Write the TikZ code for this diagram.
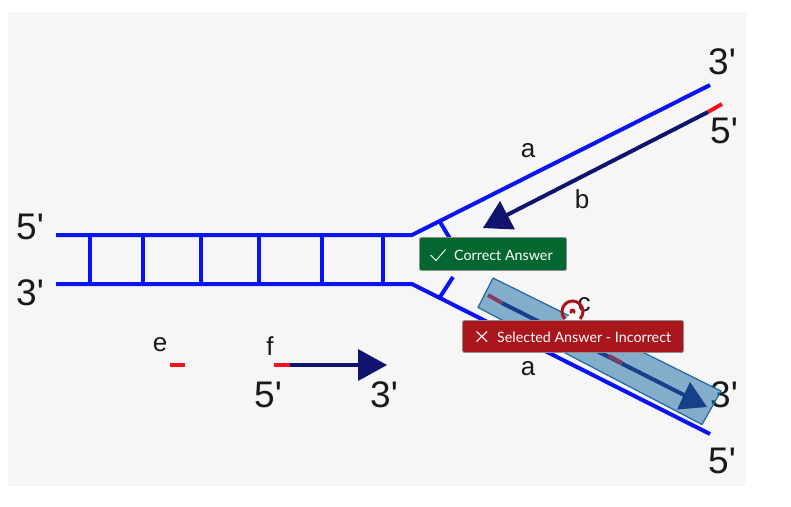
\documentclass[tikz,border=0pt]{standalone}
\usepackage{fontspec}
\setmainfont{Liberation Sans}
\newfontfamily\labelfont{Liberation Sans}
\newfontfamily\latofont{Lato}
\definecolor{strandblue}{HTML}{0A14F0}
\definecolor{navy}{HTML}{10146E}
\definecolor{primer}{HTML}{F5101E}
\definecolor{panel}{HTML}{F6F6F6}
\definecolor{boxblue}{HTML}{1D6AA5}
\definecolor{okgreen}{HTML}{04672F}
\definecolor{badred}{HTML}{A9161C}
\definecolor{tipedge}{HTML}{8E8E8E}
\tikzset{
  strand/.style={draw=strandblue,line width=4pt},
  newstrand/.style={draw=navy,line width=4pt},
  primerline/.style={draw=primer,line width=4pt},
  endlabel/.style={font=\labelfont\fontsize{37}{37}\selectfont,text=black!90,inner sep=0pt},
  letter/.style={font=\labelfont\fontsize{26}{26}\selectfont,text=black!90,inner sep=0pt},
  tiptext/.style={font=\latofont\fontsize{14.3}{14.3}\selectfont,text=white,inner sep=0pt,anchor=west},
  tipbox/.style={draw=tipedge,line width=.8pt,rounded corners=1.5pt}
}
\begin{document}
\begin{tikzpicture}[x=1pt,y=-1pt]
\useasboundingbox (0,0) rectangle (791,506);
\fill[white] (0,0) rectangle (791,506);
\fill[panel] (8,12) rectangle (746,486);

% template strands
\coordinate (tl) at (56,235);
\coordinate (tj) at (412,235);
\coordinate (te) at (710,85);
\coordinate (bl) at (56,284);
\coordinate (bj) at (412,284);
\coordinate (be) at (710,434);
\draw[strand,line join=round] (tl) -- (tj) -- (te);
\draw[strand,line join=round] (bl) -- (bj) -- (be);
\foreach \x in {90,143,201,259,322,383}
  \draw[strand] (\x,235) -- (\x,284);
\coordinate (ru1) at (440,222);
\coordinate (ru2) at (452,242);
\coordinate (rl1) at (440,297);
\coordinate (rl2) at (453,277);
\draw[strand] (ru1) -- (ru2);
\draw[strand] (rl1) -- (rl2);

% strand b
\coordinate (b5) at (722,104);
\coordinate (bm) at (708,112);
\coordinate (bt) at (505,216);
\draw[newstrand] (bm) -- (bt);
\draw[primerline] (b5) -- (bm);
\fill[navy] (483,228) -- (515,229.5) -- (500,201) -- cycle;

% legend f
\coordinate (f5) at (274,365);
\coordinate (fm) at (290,365);
\coordinate (ft) at (362,365);
\draw[newstrand] (fm) -- (ft);
\draw[primerline] (f5) -- (fm);
\fill[navy] (358,349) -- (387,365) -- (358,381) -- cycle;
\coordinate (e1) at (170,365);
\coordinate (e2) at (185,365);
\draw[primerline] (e1) -- (e2);

% labels
\node[endlabel] (l3a) at (722,62) {3'};
\node[endlabel] (l5a) at (724,131) {5'};
\node[endlabel] (l5b) at (30,227) {5'};
\node[endlabel] (l3b) at (30,293) {3'};
\node[endlabel] (l5c) at (268,395) {5'};
\node[endlabel] (l3c) at (384,395) {3'};
\node[endlabel] (l3d) at (724,395) {3'};
\node[endlabel] (l5d) at (722,461) {5'};
\node[letter] (la) at (528,151) {a};
\node[letter] (lb) at (582,199) {b};
\node[letter] (lc) at (584,305) {c};
\node[letter] (la2) at (528,369) {a};
\node[letter] (le) at (160,345) {e};
\node[letter] (lf) at (270,346) {f};

% strand c inside the highlighted box
\coordinate (c5) at (488,295);
\coordinate (cm) at (502,303);
\coordinate (ct) at (690,398);
\coordinate (r1) at (609,356);
\coordinate (r2) at (622,363);
\draw[newstrand] (cm) -- (ct);
\draw[primerline] (c5) -- (cm);
\draw[primerline] (r1) -- (r2);
\fill[navy] (707,407) -- (677,409.5) -- (690,382) -- cycle;
\draw[boxblue,fill=boxblue,fill opacity=.52,line width=1.2pt,line join=round]
  (493,278) -- (721,391) -- (702,424.5) -- (478,307.5) -- cycle;

% target marker
\node[circle,draw=badred,line width=3pt,minimum size=21pt,inner sep=0pt] (target) at (572.5,311.5) {};
\fill[badred] (target.center) circle (3pt);

% tooltips
\fill[white] (563,321) -- (572.5,312.5) -- (582,321) -- cycle;
\fill[white] (484,270) -- (492,278) -- (500,270) -- cycle;
\draw[tipbox,fill=okgreen] (419.5,237.5) rectangle (566.5,270.5);
\node[tiptext] (ok) at (454,255) {Correct Answer};
\draw[white,line width=.9pt] (430.5,255) -- (436,260.5) -- (445.5,249.5);
\draw[tipbox,fill=badred] (462.5,320.5) rectangle (683.5,352.5);
\node[tiptext] (bad) at (497,337.5) {Selected Answer - Incorrect};
\draw[white,line width=1.1pt] (476.5,331.5) -- (487,341.5) (487,331.5) -- (476.5,341.5);
\end{tikzpicture}
\end{document}
